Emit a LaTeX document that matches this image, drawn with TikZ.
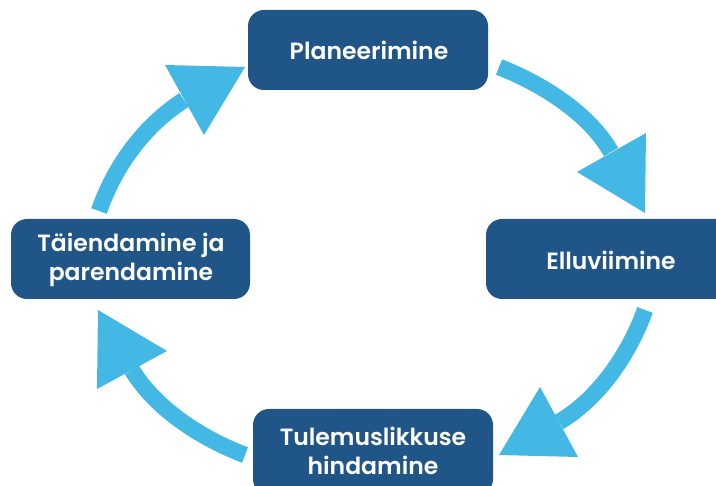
\documentclass[tikz,border=0pt]{standalone}
\usepackage{fontspec}
\setmainfont{Poppins}[BoldFont={* SemiBold}]
\definecolor{boxblue}{RGB}{32,85,135}
\definecolor{arrowblue}{RGB}{67,184,228}
\begin{document}
\begin{tikzpicture}[x=1pt,y=-1pt,
  stagebox/.style={fill=boxblue, rounded corners=16pt, draw=none},
  stagetext/.style={text=white, font=\bfseries\fontsize{23.5}{29}\selectfont, align=center, inner sep=0pt},
  shaft/.style={draw=arrowblue, line width=16.5pt, line cap=butt},
  head/.style={fill=arrowblue, draw=none}]
\useasboundingbox (0,0) rectangle (716,486);
% boxes
\path[stagebox] (248,10) rectangle (488,90);
\node[stagetext] (plan) at (369,50) {Planeerimine};
\path[stagebox] (486,219) rectangle (740,299);
\node[stagetext] (ellu) at (611,260) {Elluviimine};
\path[stagebox] (253,409) rectangle (493,495);
\node[stagetext] (tule) at (373,451) {Tulemuslikkuse\\hindamine};
\path[stagebox] (11,219) rectangle (250,299);
\node[stagetext] (taie) at (131,260) {Täiendamine ja\\parendamine};
% arrow coordinates
\coordinate (a1s) at (499,67);
\coordinate (a1b) at (611,152);
\coordinate (a2s) at (645,310);
\coordinate (a2b) at (559,422);
\coordinate (a3s) at (245,455);
\coordinate (a3b) at (132,370);
\coordinate (a4s) at (99,211);
\coordinate (a4b) at (184,100);
% shafts
\draw[shaft] (a1s) .. controls (545,85) and (590,115) .. (a1b);
\draw[shaft] (a2s) .. controls (630,352) and (600,398) .. (a2b);
\draw[shaft] (a3s) .. controls (200,438) and (155,408) .. (a3b);
\draw[shaft] (a4s) .. controls (115,165) and (145,125) .. (a4b);
% heads
\path[head] (577,172) -- (646,133) -- (645,213) -- cycle;
\path[head] (540,387) -- (578,457) -- (499,455) -- cycle;
\path[head] (98,310) -- (167,351) -- (97,389) -- cycle;
\path[head] (165,65) -- (245,67) -- (204,135) -- cycle;
\end{tikzpicture}
\end{document}
